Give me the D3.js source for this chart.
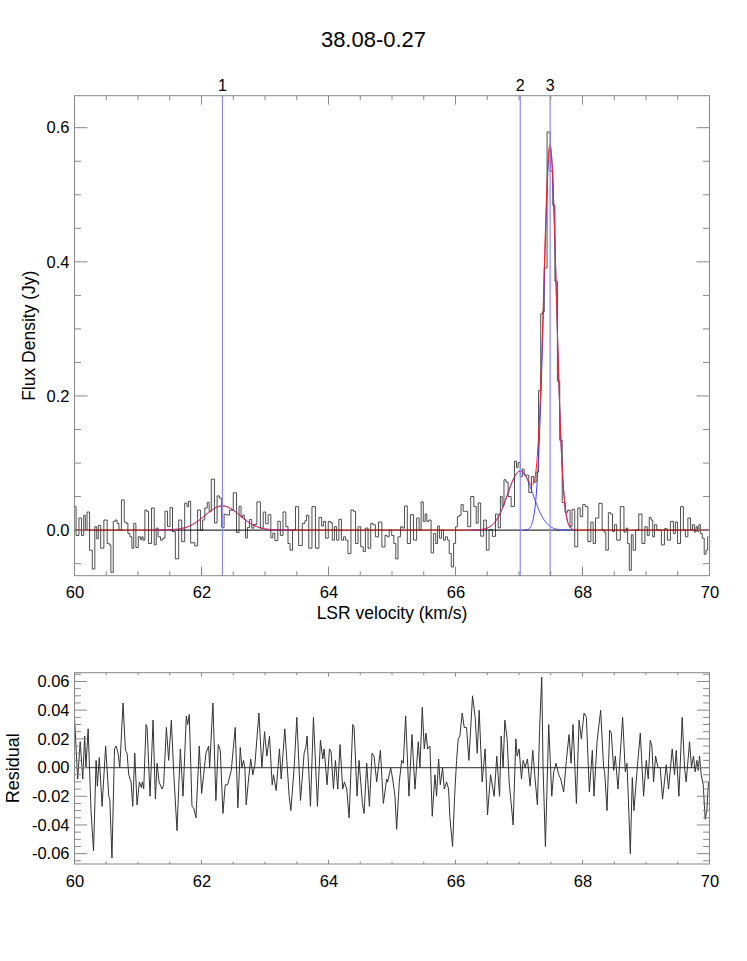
<!DOCTYPE html>
<html>
<head>
<meta charset="utf-8">
<script src="https://cdn.jsdelivr.net/npm/d3@7"></script>
<style>
  body { margin: 0; background: #fff; }
  svg { display: block; }
  text { font-family: "Liberation Sans", Arial, Helvetica, sans-serif; fill: #000; }
</style>
</head>
<body>
<svg id="chart" width="747" height="961"></svg>
<script>
// ---------------- DATA ----------------
const title = "38.08-0.27";
// Gaussian fit components: amplitude (Jy), centre (km/s), sigma (km/s)
const compAmp    = [0.036, 0.088, 0.570];
const compCenter = [62.33, 67.02, 67.49];
const compSigma  = [0.275, 0.20, 0.100];
const compLabels = ["1", "2", "3"];

// Residual (data - fit)
const residVel = [60.00,60.05,60.09,60.13,60.16,60.18,60.215,60.26,60.30,60.34,60.36,60.39,60.435,60.49,60.54,60.556,60.59,60.63,60.655,60.687,60.713,60.765,60.802,60.828,60.854,60.891,60.917,60.949,60.985,61.022,61.053,61.069,61.09,61.127,61.143,61.19,61.237,61.274,61.30,61.331,61.379,61.404,61.447,61.483,61.525,61.562,61.614,61.667,61.709,61.761,61.782,61.808,61.85,61.876,61.913,61.965,62.002,62.034,62.07,62.112,62.128,62.18,62.227,62.264,62.296,62.338,62.374,62.411,62.469,62.531,62.573,62.61,62.636,62.662,62.683,62.704,62.741,62.775,62.809,62.841,62.904,62.951,62.993,63.029,63.071,63.113,63.134,63.176,63.228,63.255,63.312,63.344,63.38,63.407,63.459,63.501,63.559,63.616,63.643,63.663,63.716,63.763,63.826,63.873,63.91,63.931,63.978,64.015,64.041,64.078,64.109,64.146,64.182,64.224,64.25,64.287,64.325,64.382,64.403,64.45,64.481,64.534,64.56,64.602,64.644,64.686,64.717,64.759,64.817,64.864,64.916,64.932,64.979,65.011,65.047,65.073,65.115,65.152,65.178,65.215,65.267,65.314,65.362,65.414,65.44,65.477,65.508,65.535,65.561,65.597,65.634,65.676,65.702,65.734,65.76,65.797,65.823,65.86,65.891,65.912,65.954,65.986,66.017,66.043,66.069,66.106,66.137,66.174,66.211,66.268,66.31,66.342,66.373,66.42,66.467,66.504,66.552,66.609,66.65,66.694,66.719,66.75,66.777,66.813,66.845,66.908,66.95,66.971,67.002,67.039,67.065,67.097,67.133,67.175,67.217,67.248,67.29,67.327,67.358,67.379,67.416,67.468,67.516,67.547,67.584,67.626,67.657,67.704,67.746,67.788,67.82,67.851,67.904,67.946,67.982,68.024,68.061,68.108,68.155,68.181,68.229,68.286,68.333,68.349,68.386,68.428,68.454,68.491,68.517,68.559,68.632,68.674,68.70,68.721,68.753,68.784,68.81,68.863,68.91,68.962,69.004,69.035,69.067,69.093,69.119,69.151,69.188,69.224,69.261,69.319,69.355,69.413,69.45,69.476,69.518,69.57,69.607,69.633,69.686,69.717,69.748,69.775,69.801,69.822,69.843,69.869,69.901,69.932,69.958,69.984];
const residVal = [0.035,-0.008,0.018,-0.008,0.022,0.0,0.027,-0.03,-0.058,0.005,-0.013,0.007,-0.027,0.015,-0.02,-0.022,-0.063,0.013,0.015,0.01,0.0,0.045,0.012,0.01,-0.005,-0.01,-0.027,0.01,-0.026,-0.01,-0.014,-0.01,-0.015,0.03,0.028,-0.02,0.033,-0.022,0.003,-0.01,-0.015,-0.012,0.028,0.005,0.033,-0.003,-0.044,0.013,-0.02,0.036,0.03,0.037,-0.027,-0.028,-0.035,0.015,-0.018,-0.005,0.01,0.015,0.0,0.045,-0.023,0.016,0.012,-0.032,-0.012,-0.012,-0.002,0.028,-0.028,0.014,0.0,0.005,0.0,-0.026,-0.008,0.006,-0.005,0.002,0.038,0.0,0.025,0.008,0.022,-0.012,-0.005,-0.016,0.013,-0.008,0.027,0.005,-0.02,-0.03,0.0,0.035,-0.023,0.01,0.014,0.022,-0.027,0.035,-0.027,0.019,0.006,0.013,-0.012,0.013,0.011,-0.015,0.005,-0.015,0.016,-0.015,-0.01,-0.015,-0.035,0.03,0.028,-0.02,0.005,-0.025,-0.032,0.003,-0.027,0.01,0.008,-0.01,0.012,-0.025,-0.008,-0.01,0.0,-0.008,-0.02,-0.043,-0.01,0.005,0.003,0.036,-0.02,0.023,-0.015,0.018,0.0,0.042,0.013,0.024,0.013,0.015,-0.034,-0.005,-0.02,0.006,-0.012,0.0,-0.015,-0.01,-0.015,-0.035,-0.055,-0.02,0.005,0.02,0.022,0.038,0.028,0.028,0.005,0.05,0.035,0.01,0.04,-0.01,0.013,-0.033,-0.005,-0.02,0.008,-0.02,0.022,0.0,0.033,0.02,-0.01,-0.04,0.02,0.008,0.013,-0.008,0.005,0.0,0.006,-0.013,0.012,-0.005,-0.026,0.03,0.063,0.0,-0.055,0.03,-0.02,-0.003,0.003,-0.005,-0.008,-0.017,0.005,0.023,0.003,0.03,-0.025,0.033,0.02,0.038,0.035,-0.017,0.012,-0.02,0.018,0.04,0.0,-0.003,-0.03,0.026,0.024,-0.002,0.008,-0.015,0.035,-0.003,0.003,-0.02,-0.06,-0.007,-0.03,0.0,0.024,-0.02,0.005,-0.008,0.019,0.015,-0.01,0.008,0.0,0.0,-0.022,0.002,-0.015,0.013,-0.005,0.012,-0.02,0.035,0.0,-0.01,0.018,0.0,0.008,-0.003,0.005,-0.002,0.008,-0.005,-0.012,-0.036,-0.03,-0.01];

const xTickVals   = [60, 62, 64, 66, 68, 70];
const yTopTickVals = [0.0, 0.2, 0.4, 0.6];
const yBotTickVals = [-0.06, -0.04, -0.02, 0.0, 0.02, 0.04, 0.06];

// ---------------- LAYOUT ----------------
const svg = d3.select("#chart");
const L = 74.5, R = 709.5;
const top1 = 95.7, bot1 = 575.7;
const top2 = 672.7, bot2 = 864;
const frameColor = "#888";

const x = d3.scaleLinear([60, 70], [L, R]);
const y1 = d3.scaleLinear([-0.068, 0.6477], [bot1, top1]);
const y2 = d3.scaleLinear([-0.0672, 0.0661], [bot2, top2]);

// model
const gauss = (v, i) => compAmp[i] * Math.exp(-((v - compCenter[i]) ** 2) / (2 * compSigma[i] ** 2));
const total = v => compAmp.reduce((s, _, i) => s + gauss(v, i), 0);
// observed spectrum = fit + residual (the residual panel shows data - fit)
const spectrum = residVel.map((v, i) => ({ v, f: total(v) + residVal[i] }));
const fine = d3.range(60, 70.0001, 0.005);

svg.append("clipPath").attr("id", "c1").append("rect")
  .attr("x", L).attr("y", top1).attr("width", R - L).attr("height", bot1 - top1);
svg.append("clipPath").attr("id", "c2").append("rect")
  .attr("x", L).attr("y", top2).attr("width", R - L).attr("height", bot2 - top2);

// title
svg.append("text").attr("x", 373.5).attr("y", 47.3).attr("text-anchor", "middle")
  .style("font-size", "22px").text(title);

// ---------- TOP PANEL ----------
const g1 = svg.append("g").attr("clip-path", "url(#c1)");

// spectrum (histogram style)
g1.append("path").datum(spectrum)
  .attr("d", d3.line().x(d => x(d.v)).y(d => y1(d.f)).curve(d3.curveStep))
  .attr("fill", "none").attr("stroke", "#3a3a3a").attr("stroke-width", 0.9);

// zero line
g1.append("line").attr("x1", L).attr("x2", R).attr("y1", y1(0)).attr("y2", y1(0))
  .attr("stroke", "#000").attr("stroke-width", 1);

// components (blue), drawn around their centres
compAmp.forEach((_, i) => {
  const vs = fine.filter(v => Math.abs(v - compCenter[i]) <= 4 * compSigma[i]);
  g1.append("path").datum(vs)
    .attr("d", d3.line().x(v => x(v)).y(v => y1(gauss(v, i))))
    .attr("fill", "none").attr("stroke", "#3b3bff").attr("stroke-width", 1);
});
// total fit (red)
g1.append("path").datum(fine)
  .attr("d", d3.line().x(v => x(v)).y(v => y1(total(v))))
  .attr("fill", "none").attr("stroke", "#ff2020").attr("stroke-width", 1);

// component markers
compCenter.forEach((c, i) => {
  svg.append("line").attr("x1", x(c)).attr("x2", x(c)).attr("y1", top1).attr("y2", bot1)
    .attr("stroke", "#8c8cff").attr("stroke-width", 1.2);
  svg.append("text").attr("x", x(c)).attr("y", 91).attr("text-anchor", "middle")
    .style("font-size", "16px").text(compLabels[i]);
});

// frame + ticks helper
function frame(yScale, top, bot, yMajor, yMinorStep, yFmt, xMajLen, xMinLen, yMajLen, yMinLen) {
  const g = svg.append("g");
  g.append("rect").attr("x", L).attr("y", top).attr("width", R - L).attr("height", bot - top)
    .attr("fill", "none").attr("stroke", frameColor).attr("stroke-width", 1);
  const xMinor = d3.range(60, 70.0001, 0.5);
  const [y0, y1d] = yScale.domain();
  const yMinor = d3.range(Math.ceil(y0 / yMinorStep - 1e-6) * yMinorStep, y1d + 1e-9, yMinorStep);
  const tk = g.append("g").attr("stroke", frameColor).attr("stroke-width", 1);
  xMinor.forEach(v => {
    const maj = Math.abs(v - Math.round(v / 2) * 2) < 1e-6;
    const len = maj ? xMajLen : xMinLen;
    tk.append("line").attr("x1", x(v)).attr("x2", x(v)).attr("y1", bot).attr("y2", bot - len);
    tk.append("line").attr("x1", x(v)).attr("x2", x(v)).attr("y1", top).attr("y2", top + len);
  });
  yMinor.forEach(v => {
    const maj = yMajor.some(m => Math.abs(m - v) < 1e-6);
    const len = maj ? yMajLen : yMinLen;
    tk.append("line").attr("x1", L).attr("x2", L + len).attr("y1", yScale(v)).attr("y2", yScale(v));
    tk.append("line").attr("x1", R).attr("x2", R - len).attr("y1", yScale(v)).attr("y2", yScale(v));
  });
  // labels via d3 axes (no tick lines, no domain)
  const ax = g.append("g").attr("transform", `translate(0,${bot})`)
    .call(d3.axisBottom(x).tickValues(xTickVals).tickSize(0).tickPadding(11).tickFormat(d3.format("d")));
  const ay = g.append("g").attr("transform", `translate(${L},0)`)
    .call(d3.axisLeft(yScale).tickValues(yMajor).tickSize(0).tickPadding(5).tickFormat(yFmt));
  [ax, ay].forEach(a => {
    a.select(".domain").remove();
    a.selectAll("text").style("font-size", "16.5px")
      .style("font-family", '"Liberation Sans", Arial, Helvetica, sans-serif').attr("fill", "#000");
  });
}

frame(y1, top1, bot1, yTopTickVals, 0.05, v => v.toFixed(1), 9, 4.5, 13, 6.5);

svg.append("text").attr("x", 392).attr("y", 619.2).attr("text-anchor", "middle")
  .style("font-size", "17.5px").text("LSR velocity (km/s)");
svg.append("text").attr("transform", `translate(35,${(top1 + bot1) / 2}) rotate(-90)`)
  .attr("text-anchor", "middle").style("font-size", "17.5px").text("Flux Density (Jy)");

// ---------- BOTTOM PANEL ----------
const g2 = svg.append("g").attr("clip-path", "url(#c2)");
g2.append("line").attr("x1", L).attr("x2", R).attr("y1", y2(0)).attr("y2", y2(0))
  .attr("stroke", "#555").attr("stroke-width", 1.2);
g2.append("path").datum(residVel.map((v, i) => ({ v, r: residVal[i] })))
  .attr("d", d3.line().x(d => x(d.v)).y(d => y2(d.r)))
  .attr("fill", "none").attr("stroke", "#333").attr("stroke-width", 1);

frame(y2, top2, bot2, yBotTickVals, 0.005, v => v.toFixed(2), 4, 2.5, 12.7, 6.4);

svg.append("text").attr("transform", `translate(19,${(top2 + bot2) / 2}) rotate(-90)`)
  .attr("text-anchor", "middle").style("font-size", "18px").text("Residual");
</script>
</body>
</html>
